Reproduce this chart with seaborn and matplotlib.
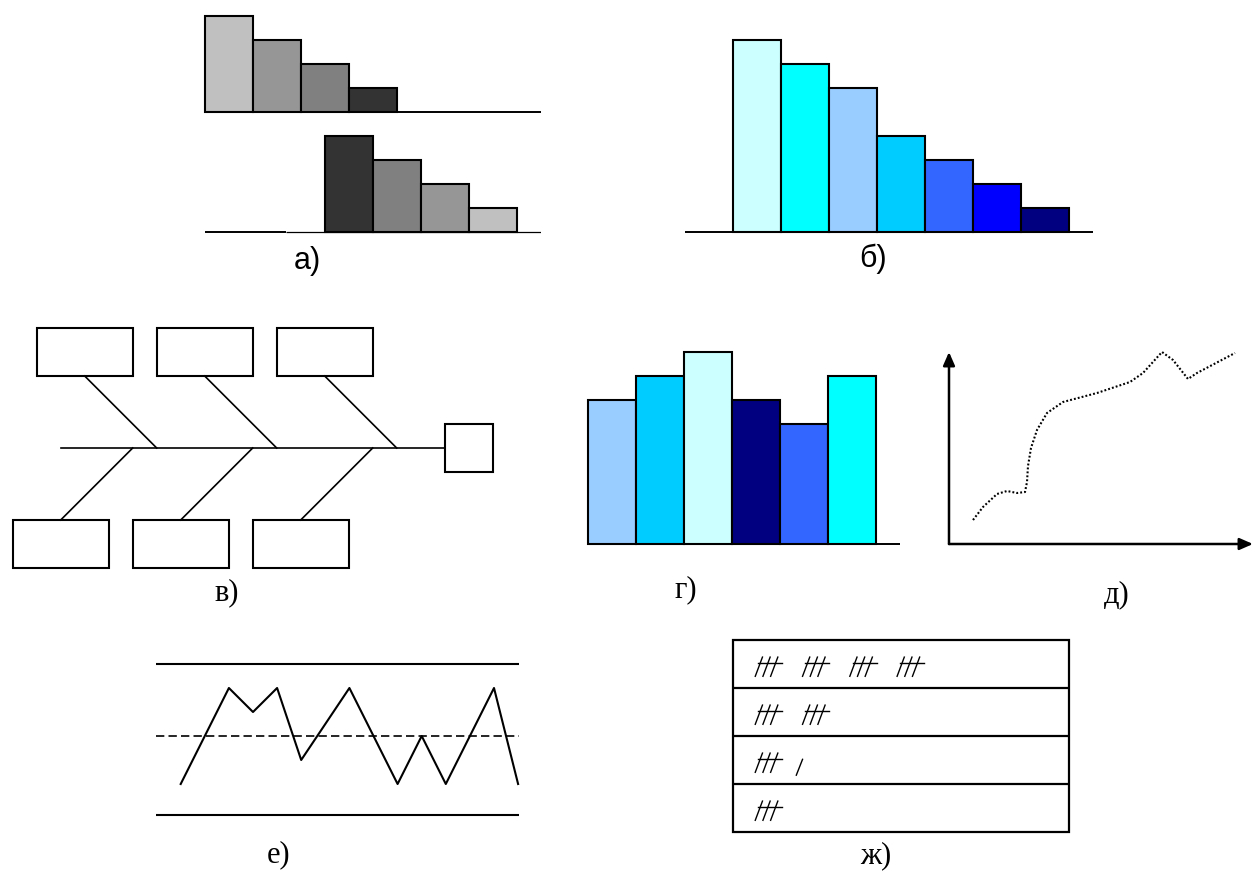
import matplotlib
matplotlib.use("Agg")
import matplotlib.pyplot as plt
import seaborn as sns
from matplotlib.patches import Rectangle

# ---------------- data ----------------
pareto_a_top = [4, 3, 2, 1]
pareto_a_top_colors = ["#c0c0c0", "#969696", "#808080", "#333333"]
pareto_a_bottom = [4, 3, 2, 1]
pareto_a_bottom_colors = ["#333333", "#808080", "#969696", "#c0c0c0"]

pareto_b = [8, 7, 6, 4, 3, 2, 1]
pareto_b_colors = ["#ccffff", "#00ffff", "#99ccff", "#00ccff", "#3366ff", "#0000ff", "#000080"]

hist_values = [6, 7, 8, 6, 5, 7]
hist_colors = ["#99ccff", "#00ccff", "#ccffff", "#000080", "#3366ff", "#00ffff"]

fishbone_bones = [0, 1, 2]

trend_x = [24, 34, 48, 58, 68, 76, 78, 79, 82, 88, 98, 114, 148, 181, 194, 213, 224, 239, 248, 286]
trend_y = [24, 37, 50, 53, 51, 52, 62, 78, 96, 114, 131, 142, 151, 162, 171, 192, 184, 165, 171, 191]

ctrl_x = [0, 2, 3, 4, 5, 7, 9, 10, 11, 13, 14]
ctrl_y = [-2, 2, 1, 2, -1, 2, -2, 0, -2, 2, -2]
ctrl_limits = [3.0, -3.3]
ctrl_center = 0.0

tally_counts = [20, 10, 6, 5]

panel_labels = ["а)", "б)", "в)", "г)", "д)", "е)", "ж)"]

# ---------------- layout ----------------
W, H = 1253, 871
fig = plt.figure(figsize=(W / 100, H / 100), dpi=100)
fig.patch.set_facecolor("white")

SANS = ["Liberation Sans", "DejaVu Sans"]
SERIF = ["Liberation Serif", "DejaVu Serif"]


def panel(xlim, ylim, px_x, px_y):
    left = px_x[0] / W
    width = (px_x[1] - px_x[0]) / W
    bottom = 1 - px_y[0] / H
    height = (px_y[0] - px_y[1]) / H
    ax = fig.add_axes([left, bottom, width, height])
    ax.set_axis_off()
    ax._lims = (xlim, ylim)
    return ax


def finish(ax):
    xlim, ylim = ax._lims
    ax.set_xlim(*xlim)
    ax.set_ylim(*ylim)
    ax.set_axis_off()


def bars(ax, values, colors):
    cats = [f"c{i}" for i in range(len(values))]
    sns.barplot(x=cats, y=values, hue=cats, palette=colors, width=1.0,
                saturation=1, edgecolor="black", linewidth=1.5,
                legend=False, ax=ax, zorder=3, clip_on=False)


# а) top pareto
ax = panel((-0.5, 6.5), (-0.5, 4.5), (204.5, 540.5), (124, 4))
bars(ax, pareto_a_top, pareto_a_top_colors)
ax.hlines(0, -0.5, 6.5, color="black", lw=1.4, zorder=2)
finish(ax)

# а) bottom pareto
ax = panel((-3.0, 4.0), (-0.5, 4.5), (204.5, 540.5), (244, 124))
bars(ax, pareto_a_bottom, pareto_a_bottom_colors)
ax.hlines(0, -3.0, -1.3, color="black", lw=1.4, zorder=2)
ax.hlines(0, -1.3, 4.0, color="black", lw=0.9, zorder=2)
finish(ax)

# б) pareto
ax = panel((-1.5, 7.0), (-0.5, 8.5), (685, 1093), (244, 28))
bars(ax, pareto_b, pareto_b_colors)
ax.hlines(0, -1.5, 7.0, color="black", lw=1.4, zorder=2)
finish(ax)

# в) fishbone
ax = panel((-0.5, 21.0), (-5.5, 5.5), (0.7, 516.7), (580, 316))
box_w, box_h, gap = 4, 2, 5
for i in fishbone_bones:
    xt = 1 + gap * i
    ax.add_patch(Rectangle((xt, 3), box_w, box_h, fill=False, lw=1.5, ec="black"))
    ax.plot([xt + 2, xt + 5], [3, 0], color="black", lw=1.2)
    xb = gap * i
    ax.add_patch(Rectangle((xb, -5), box_w, box_h, fill=False, lw=1.5, ec="black"))
    ax.plot([xb + 5, xb + 2], [0, -3], color="black", lw=1.2)
ax.plot([2, 18], [0, 0], color="black", lw=1.2)
ax.add_patch(Rectangle((18, -1), 2, 2, fill=False, lw=1.5, ec="black"))
finish(ax)

# г) histogram
ax = panel((-0.5, 6.0), (-0.5, 8.5), (588, 900), (556, 340))
bars(ax, hist_values, hist_colors)
ax.hlines(0, -0.5, 6.0, color="black", lw=1.4, zorder=2)
finish(ax)

# д) trend with arrows
ax = panel((-10, 304), (-10, 200), (939, 1253), (554, 344))
arrow = dict(arrowstyle="-|>,head_length=0.8,head_width=0.35", lw=1.8,
             color="black", shrinkA=0, shrinkB=0)
ax.annotate("", xy=(304, 0), xytext=(0, 0), arrowprops=arrow)
ax.annotate("", xy=(0, 192), xytext=(0, 0), arrowprops=arrow)
sns.lineplot(x=trend_x, y=trend_y, sort=False, estimator=None, ax=ax,
             color="black", lw=1.5, linestyle=(0, (0.9, 1.0)))
finish(ax)

# е) control chart
ax = panel((-1.5, 14.5), (-4.0, 4.0), (144.55, 530.15), (832, 640))
for lim in ctrl_limits:
    ax.hlines(lim, -1.02, 14.05, color="black", lw=1.5)
ax.hlines(ctrl_center, -1.02, 14.05, color="black", lw=1.2, linestyles=[(0, (5, 2.5))])
sns.lineplot(x=ctrl_x, y=ctrl_y, sort=False, estimator=None, ax=ax,
             color="black", lw=1.5)
finish(ax)

# ж) check sheet
ax = panel((-0.2, 7.2), (-0.2, 4.2), (723.1, 1078.3), (841.9, 630.7))
n_rows = len(tally_counts)
ax.add_patch(Rectangle((0, 0), 7, n_rows, fill=False, lw=1.6, ec="black"))
for r in range(1, n_rows):
    ax.hlines(r, 0, 7, color="black", lw=1.6)
for r, count in enumerate(tally_counts):
    yc = n_rows - r - 0.5
    groups, rest = divmod(count, 5)
    for g in range(groups):
        gx = 0.47 + g * 0.985
        for s in range(3):
            sx = gx + s * 0.16
            ax.plot([sx, sx + 0.15], [yc - 0.25, yc + 0.15], color="black", lw=1.0)
        ax.plot([gx + 0.06, gx + 0.56], [yc + 0.03, yc + 0.03], color="black", lw=1.0)
    for s in range(rest):
        sx = 0.47 + groups * 0.985 - 0.13 + s * 0.16
        ax.plot([sx, sx + 0.13], [yc - 0.31, yc + 0.02], color="black", lw=1.0)
finish(ax)

# ---------------- labels ----------------
label_pos = [(307, 261, SANS), (873, 259, SANS), (227, 593, SERIF), (686, 590, SERIF),
             (1117, 595, SERIF), (279, 855, SERIF), (876, 856, SERIF)]
for text, (x, y, fam) in zip(panel_labels, label_pos):
    fig.text(x / W, 1 - y / H, text, ha="center", va="center",
             fontsize=22, family=fam, color="black")

fig.savefig("out.png", dpi=100, facecolor="white")
